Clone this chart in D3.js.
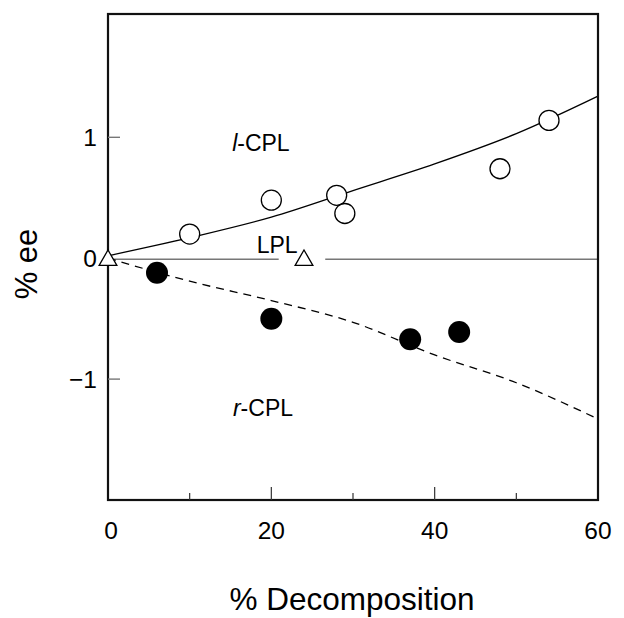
<!DOCTYPE html>
<html>
<head>
<meta charset="utf-8">
<script src="https://d3js.org/d3.v7.min.js"></script>
<style>
  html, body { margin: 0; padding: 0; background: #fff; }
  svg { display: block; font-family: "Liberation Sans", Arial, sans-serif; }
</style>
</head>
<body>
<svg id="chart" width="624" height="618"></svg>
<script>
// ---- data ----
const xMajorTicks = [0, 20, 40, 60];
const xMinorTicks = [10, 30, 50];
const yTicks = [-1, 0, 1];
const yTickLabels = ["\u22121", "0", "1"];

// l-CPL (open circles)
const lcplX = [10, 20, 28, 29, 48, 54];
const lcplY = [0.20, 0.48, 0.52, 0.37, 0.74, 1.14];

// r-CPL (filled circles)
const rcplX = [6, 20, 37, 43];
const rcplY = [-0.12, -0.50, -0.67, -0.61];

// LPL (triangles)
const lplX = [0, 24];
const lplY = [0, 0];

// fitted curves
const fitX = [0, 10, 20, 30, 40, 50, 60];
const fitL = [0.02, 0.17, 0.34, 0.56, 0.78, 1.03, 1.34];
const fitR = [0, -0.19, -0.35, -0.53, -0.80, -1.03, -1.33];

// zero (LPL) reference line, broken around the label and triangle
const zeroSegments = [[0, 20.9], [26.6, 60]];

// ---- layout ----
const plotLeft = 108, plotRight = 598, plotTop = 14, plotBottom = 500;

const svg = d3.select("#chart");

const x = d3.scaleLinear().domain([0, 60]).range([plotLeft, plotRight]);
const y = d3.scaleLinear().domain([-2, 2.02]).range([plotBottom, plotTop]);

// zero line
svg.append("g").selectAll("line")
  .data(zeroSegments)
  .join("line")
  .attr("x1", d => x(d[0]))
  .attr("x2", d => x(d[1]))
  .attr("y1", y(0) + 1)
  .attr("y2", y(0) + 1)
  .attr("stroke", "#777")
  .attr("stroke-width", 1.6);

// fitted curves
const line = d3.line()
  .x(d => x(d[0]))
  .y(d => y(d[1]))
  .curve(d3.curveMonotoneX);

svg.append("path")
  .datum(fitX.map((v, i) => [v, fitL[i]]))
  .attr("fill", "none")
  .attr("stroke", "#000")
  .attr("stroke-width", 1.3)
  .attr("d", line);

svg.append("path")
  .datum(fitX.map((v, i) => [v, fitR[i]]))
  .attr("fill", "none")
  .attr("stroke", "#000")
  .attr("stroke-width", 1.3)
  .attr("stroke-dasharray", "8,6")
  .attr("d", line);

// frame
svg.append("rect")
  .attr("x", plotLeft)
  .attr("y", plotTop)
  .attr("width", plotRight - plotLeft)
  .attr("height", plotBottom - plotTop)
  .attr("fill", "none")
  .attr("stroke", "#111")
  .attr("stroke-width", 2.2);

// x ticks (inward)
svg.append("g").selectAll("line")
  .data(xMajorTicks.filter(d => d > 0 && d < 60))
  .join("line")
  .attr("x1", d => x(d)).attr("x2", d => x(d))
  .attr("y1", plotBottom).attr("y2", plotBottom - 13)
  .attr("stroke", "#333").attr("stroke-width", 1.2);

svg.append("g").selectAll("line")
  .data(xMinorTicks)
  .join("line")
  .attr("x1", d => x(d)).attr("x2", d => x(d))
  .attr("y1", plotBottom).attr("y2", plotBottom - 7)
  .attr("stroke", "#333").attr("stroke-width", 1.2);

// y ticks (inward, not at zero)
svg.append("g").selectAll("line")
  .data(yTicks.filter(d => d !== 0))
  .join("line")
  .attr("x1", plotLeft).attr("x2", plotLeft + 12)
  .attr("y1", d => y(d)).attr("y2", d => y(d))
  .attr("stroke", "#777").attr("stroke-width", 1.4);

// tick labels
svg.append("g").selectAll("text")
  .data(xMajorTicks)
  .join("text")
  .attr("x", d => x(d) + (d === 0 ? 3 : 0))
  .attr("y", 539)
  .attr("text-anchor", "middle")
  .attr("font-size", 24.5)
  .attr("fill", "#000")
  .text(d => d);

svg.append("g").selectAll("text")
  .data(yTicks)
  .join("text")
  .attr("x", 97)
  .attr("y", d => y(d) + 8.5)
  .attr("text-anchor", "end")
  .attr("font-size", 24.5)
  .attr("fill", "#000")
  .text((d, i) => yTickLabels[i]);

// axis titles
svg.append("text")
  .attr("x", 352)
  .attr("y", 610)
  .attr("text-anchor", "middle")
  .attr("font-size", 31.5)
  .text("% Decomposition");

svg.append("text")
  .attr("transform", "translate(37,264) rotate(-90)")
  .attr("text-anchor", "middle")
  .attr("font-size", 31)
  .text("% ee");

// points
svg.append("g").selectAll("circle")
  .data(lcplX.map((v, i) => [v, lcplY[i]]))
  .join("circle")
  .attr("cx", d => x(d[0]))
  .attr("cy", d => y(d[1]))
  .attr("r", 10)
  .attr("fill", "#fff")
  .attr("stroke", "#000")
  .attr("stroke-width", 1.3);

svg.append("g").selectAll("circle")
  .data(rcplX.map((v, i) => [v, rcplY[i]]))
  .join("circle")
  .attr("cx", d => x(d[0]))
  .attr("cy", d => y(d[1]))
  .attr("r", 11)
  .attr("fill", "#000");

svg.append("g").selectAll("path")
  .data(lplX.map((v, i) => [v, lplY[i]]))
  .join("path")
  .attr("transform", d => `translate(${x(d[0])},${y(d[1]) + 2})`)
  .attr("d", d3.symbol(d3.symbolTriangle, 136))
  .attr("fill", "#fff")
  .attr("stroke", "#000")
  .attr("stroke-width", 1.3);

// series labels
const lLabel = svg.append("text")
  .attr("x", x(15.2)).attr("y", y(0.885))
  .attr("font-size", 23)
  .attr("fill", "#000");
lLabel.append("tspan").attr("font-style", "italic").text("l");
lLabel.append("tspan").text("-CPL");

const rLabel = svg.append("text")
  .attr("x", x(15.3)).attr("y", y(-1.305))
  .attr("font-size", 23)
  .attr("fill", "#000");
rLabel.append("tspan").attr("font-style", "italic").text("r");
rLabel.append("tspan").text("-CPL");

svg.append("text")
  .attr("x", x(18.2)).attr("y", y(0.04))
  .attr("font-size", 23)
  .attr("fill", "#000")
  .text("LPL");
</script>
</body>
</html>
